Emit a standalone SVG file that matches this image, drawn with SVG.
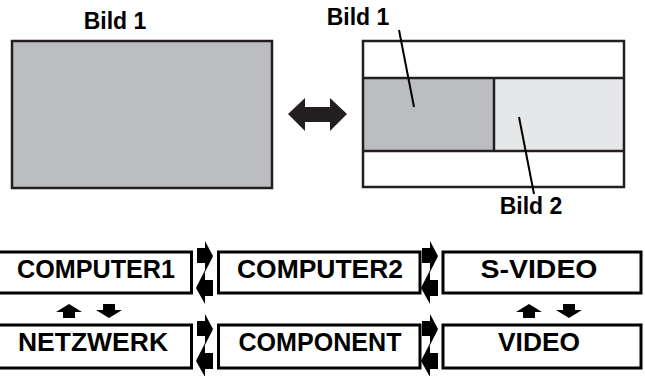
<svg xmlns="http://www.w3.org/2000/svg" width="645" height="376" viewBox="0 0 645 376">
<style>
.lbl{font-family:"Liberation Sans",Arial,sans-serif;font-weight:bold;font-size:23px;fill:#000;text-anchor:middle}
.btn{font-family:"Liberation Sans",Arial,sans-serif;font-weight:bold;font-size:25px;fill:#000;text-anchor:middle}
.box{fill:#fff;stroke:#000;stroke-width:3}
.scr{stroke:#231f20;stroke-width:2.5}
.arr{fill:#000}
.lead{stroke:#000;stroke-width:2;fill:none}
</style>
<defs>
<g id="zz">
<polygon points="197,248 205,248 205,241 213,256 205,271 205,263 197,263"/>
<polygon points="213,280 205,280 205,272 196,288 205,304 205,296 213,296"/>
<line x1="212" y1="257" x2="197" y2="287" stroke="#000" stroke-width="1"/>
</g>
<g id="ud">
<polygon points="0,304 13,312 6,312 6,318 -6,318 -6,312 -13,312"/>
<polygon points="34,304 46,304 46,310 53,310 40,318 27,310 34,310"/>
</g>
</defs>
<g id="screen1">
<text class="lbl" x="115" y="29">Bild 1</text>
<rect class="scr" x="12" y="41" width="260" height="147" fill="#bcbdc1"/>
</g>
<g id="screen2">
<rect x="363" y="41" width="261" height="146" fill="#fff"/>
<rect x="363" y="78" width="131" height="73" fill="#bcbdc1"/>
<rect x="494" y="78" width="130" height="73" fill="#e6e7e8"/>
<line class="scr" x1="363" y1="78" x2="624" y2="78" stroke-width="2"/>
<line class="scr" x1="363" y1="151" x2="624" y2="151" stroke-width="2"/>
<line class="scr" x1="494" y1="78" x2="494" y2="151" stroke-width="2"/>
<rect class="scr" x="363" y="41" width="261" height="146" fill="none"/>
<text class="lbl" x="358" y="25">Bild 1</text>
<text class="lbl" x="531" y="214">Bild 2</text>
</g>
<g id="connectors">
<polygon fill="#231f20" points="288,114 305,98 305,107 330,107 330,98 347,114 330,131 330,122 305,122 305,131"/>
<line class="lead" x1="399" y1="30" x2="414" y2="107"/>
<line class="lead" x1="519" y1="117" x2="534" y2="194"/>
<use href="#zz" class="arr"/>
<use href="#zz" class="arr" transform="translate(225,0)"/>
<use href="#zz" class="arr" transform="translate(0,73)"/>
<use href="#zz" class="arr" transform="translate(225,73)"/>
<use href="#ud" class="arr" transform="translate(69,0)"/>
<use href="#ud" class="arr" transform="translate(529,0)"/>
</g>
<g id="computer1"><rect class="box" x="-4" y="252" width="195.5" height="41"/><text class="btn" x="96" y="278" textLength="158" lengthAdjust="spacingAndGlyphs">COMPUTER1</text></g>
<g id="computer2"><rect class="box" x="218.5" y="252" width="201.5" height="41"/><text class="btn" x="320" y="278" textLength="166" lengthAdjust="spacingAndGlyphs">COMPUTER2</text></g>
<g id="svideo"><rect class="box" x="443" y="252" width="198" height="41"/><text class="btn" x="539" y="278" textLength="117" lengthAdjust="spacingAndGlyphs">S-VIDEO</text></g>
<g id="netzwerk"><rect class="box" x="-4" y="325" width="195.5" height="43"/><text class="btn" x="93" y="351" textLength="150" lengthAdjust="spacingAndGlyphs">NETZWERK</text></g>
<g id="component"><rect class="box" x="218.5" y="325" width="201.5" height="43"/><text class="btn" x="320" y="351" textLength="163" lengthAdjust="spacingAndGlyphs">COMPONENT</text></g>
<g id="video"><rect class="box" x="443" y="325" width="198" height="43"/><text class="btn" x="539" y="351" textLength="82" lengthAdjust="spacingAndGlyphs">VIDEO</text></g>
</svg>
